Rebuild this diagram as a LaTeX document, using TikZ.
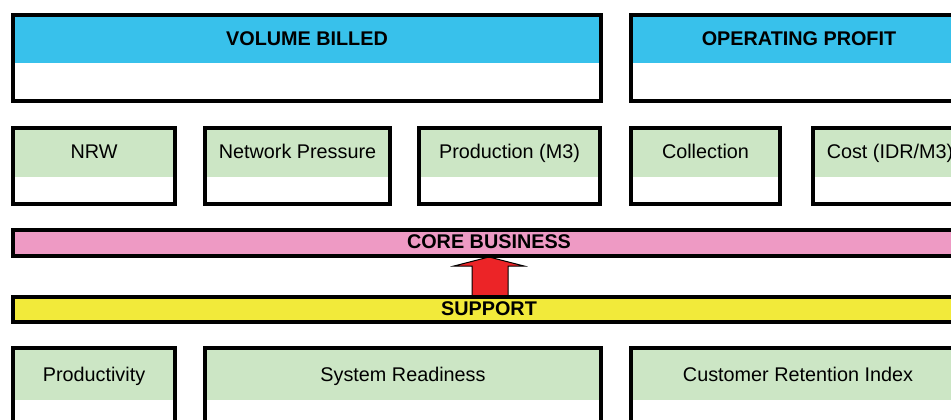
\documentclass[tikz,border=0pt]{standalone}
\usepackage{fontspec}
\setmainfont{Liberation Sans}
\definecolor{hblue}{HTML}{38C1EB}
\definecolor{hgreen}{HTML}{CCE6C5}
\definecolor{hpink}{HTML}{EE9AC4}
\definecolor{hyellow}{HTML}{F2EA3A}
\definecolor{hred}{HTML}{EC2427}
\begin{document}
\begin{tikzpicture}[x=1pt,y=-1pt,
  frame/.style={draw=black,line width=4pt},
  lbl/.style={anchor=base,inner sep=0pt,font=\fontsize{19.8}{22}\selectfont},
  blbl/.style={anchor=base,inner sep=0pt,font=\fontsize{19.8}{22}\selectfont\bfseries}]
\useasboundingbox (0,0) rectangle (951,420);
\clip (0,0) rectangle (951,420);
\fill[white] (0,0) rectangle (951,420);

% top row
\fill[hblue] (13,15) rectangle (601,63);
\draw[frame] (13,15) rectangle (601,101);
\fill[hblue] (631,15) rectangle (967,63);
\draw[frame] (631,15) rectangle (967,101);
\node[blbl] (vol) at (307,46) {VOLUME BILLED};
\node[blbl] (op) at (799,46) {OPERATING PROFIT};

% second row
\foreach \a/\b in {13/175,205/390,419/600,631/780,813/967}{
  \fill[hgreen] (\a,128) rectangle (\b,177);
  \draw[frame] (\a,128) rectangle (\b,204);
}
\node[lbl] (nrw) at (94,158) {NRW};
\node[lbl] (np) at (297.5,158) {Network Pressure};
\node[lbl] (prod) at (509.5,158) {Production (M3)};
\node[lbl] (coll) at (705.5,158) {Collection};
\node[lbl] (cost) at (890,158) {Cost (IDR/M3)};

% arrow
\coordinate (abase) at (490,296);
\coordinate (atip) at (489,257);
\filldraw[fill=hred,draw=black,line width=1pt]
  (472,296) -- (472,266) -- (454,266) -- (atip) -- (524,266) -- (508,266) -- (508,296) -- cycle;

% bars
\fill[hpink] (13,230) rectangle (967,256);
\draw[frame] (13,230) rectangle (967,256);
\fill[hyellow] (13,297) rectangle (967,322);
\draw[frame] (13,297) rectangle (967,322);
\node[blbl] (core) at (489,248) {CORE BUSINESS};
\node[blbl] (sup) at (489,315) {SUPPORT};

% bottom row
\foreach \a/\b in {13/175,205/601,631/967}{
  \fill[hgreen] (\a,348) rectangle (\b,400);
  \draw[frame] (\a,348) rectangle (\b,440);
}
\node[lbl] (prd) at (94,381) {Productivity};
\node[lbl] (sys) at (403,381) {System Readiness};
\node[lbl] (cri) at (798,381) {Customer Retention Index};
\end{tikzpicture}
\end{document}
